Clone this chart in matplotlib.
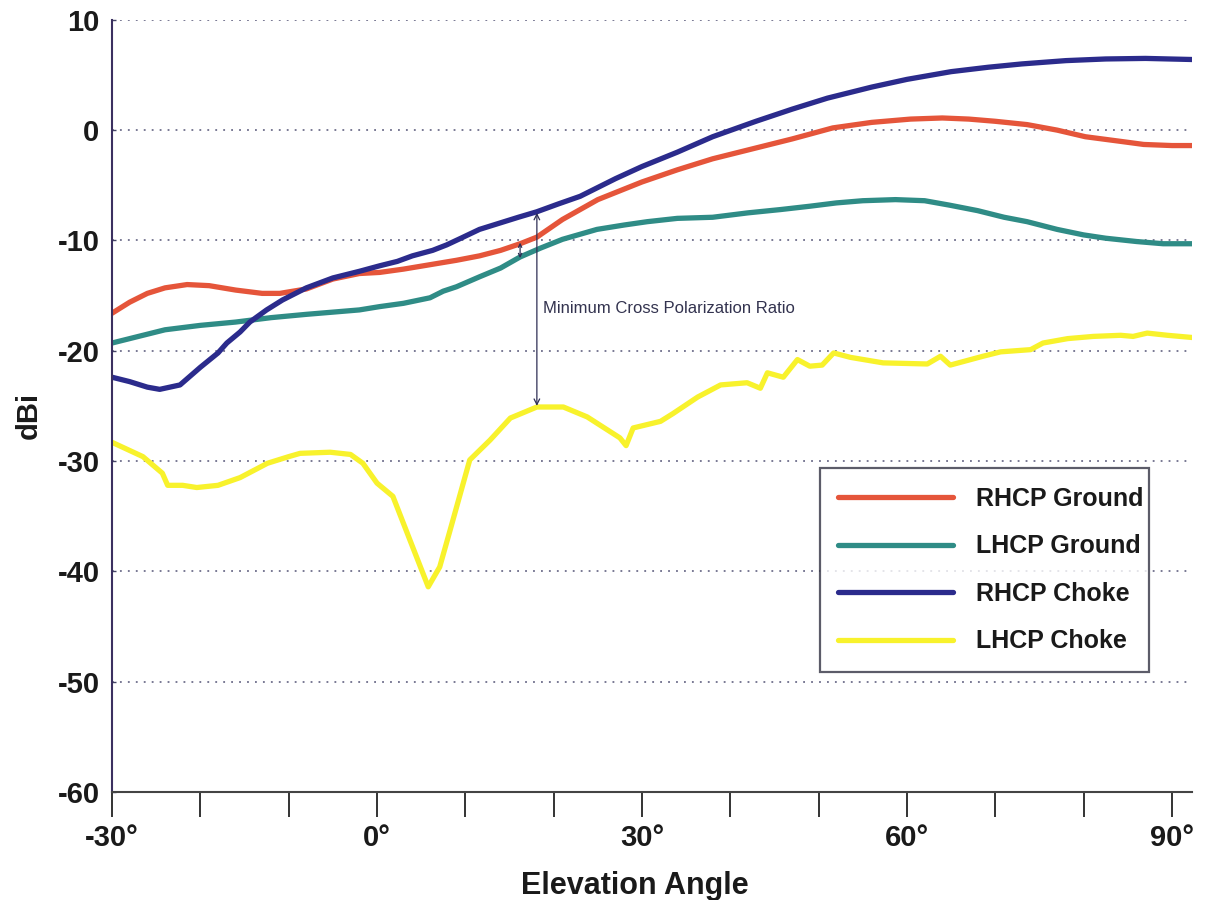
import matplotlib
matplotlib.use("Agg")
import matplotlib.pyplot as plt

plt.rcParams['font.family'] = ['Liberation Sans', 'DejaVu Sans']

# RHCP Ground (red)
rg_x = [-30, -28, -26, -24, -21.5, -19, -16, -13, -11, -8, -5, -2, 0.3, 3, 6, 9, 11.6, 14,
        16.2, 18.1, 21, 25, 30, 34, 38, 43, 47, 51.6, 56, 60.4, 64, 67, 70, 73.6, 77, 80.2,
        84, 86.8, 90, 92.3]
rg_y = [-16.6, -15.6, -14.8, -14.3, -14.0, -14.1, -14.5, -14.8, -14.8, -14.4, -13.5, -13.0,
        -12.9, -12.6, -12.2, -11.8, -11.4, -10.9, -10.3, -9.7, -8.1, -6.3, -4.7, -3.6, -2.6,
        -1.6, -0.8, 0.2, 0.7, 1.0, 1.1, 1.0, 0.8, 0.5, 0.0, -0.6, -1.0, -1.3, -1.4, -1.4]

# LHCP Ground (teal)
lg_x = [-30, -27, -24, -20, -16, -12, -8, -5, -2, 0.3, 3, 6, 7.5, 9, 11.6, 14, 16.2, 18.5,
        21, 24.9, 28, 30.6, 34, 38, 42, 45.7, 49, 52, 55, 58.7, 62, 64.8, 68, 71, 73.6, 77,
        80, 82.5, 86, 89, 92.3]
lg_y = [-19.3, -18.7, -18.1, -17.7, -17.4, -17.0, -16.7, -16.5, -16.3, -16.0, -15.7, -15.2,
        -14.6, -14.2, -13.3, -12.5, -11.5, -10.7, -9.9, -9.0, -8.6, -8.3, -8.0, -7.9, -7.5,
        -7.2, -6.9, -6.6, -6.4, -6.3, -6.4, -6.8, -7.3, -7.9, -8.3, -9.0, -9.5, -9.8, -10.1,
        -10.3, -10.3]

# RHCP Choke (blue)
rc_x = [-30, -28, -26, -24.6, -22.3, -20, -18, -17, -15.5, -14.4, -12.5, -10.7, -8, -5, -2,
        0.3, 2.3, 4, 6.3, 7.9, 9.5, 11.6, 14, 16, 18.1, 20.5, 23, 25, 27, 30, 34, 38,
        42.9, 47, 51, 56, 60, 65, 69.2, 73, 78, 82.5, 87, 92.3]
rc_y = [-22.4, -22.8, -23.3, -23.5, -23.1, -21.5, -20.2, -19.3, -18.3, -17.4, -16.3, -15.4,
        -14.3, -13.4, -12.8, -12.3, -11.9, -11.4, -10.9, -10.4, -9.8, -9.0, -8.4, -7.9, -7.4,
        -6.7, -6.0, -5.2, -4.4, -3.3, -2.0, -0.6, 0.8, 1.9, 2.9, 3.9, 4.6, 5.3, 5.7, 6.0, 6.3,
        6.45, 6.5, 6.4]

# LHCP Choke (yellow)
lc_x = [-30, -26.5, -24.3, -23.7, -22, -20.4, -18, -15.5, -12.4, -10, -8.7, -5.3, -3, -1.6,
        0, 1.8, 3.7, 5.8, 7.1, 8.3, 10.5, 12.8, 15.1, 18.1, 21.1, 23.8, 27.5, 28.2, 29, 32.1,
        33.5, 36.3, 38.9, 41.9, 43.4, 44.2, 46, 47.6, 49, 50.4, 51.7, 53.6, 57.3, 62.3, 63.8,
        64.9, 68.6, 70.6, 74, 75.4, 78.2, 81.1, 84.2, 85.6, 87.2, 89.5, 92.3]
lc_y = [-28.3, -29.6, -31.1, -32.2, -32.2, -32.4, -32.2, -31.5, -30.2, -29.6, -29.3, -29.2,
        -29.4, -30.2, -32.0, -33.2, -37.1, -41.4, -39.6, -36.2, -29.9, -28.1, -26.1, -25.1,
        -25.1, -26.0, -27.9, -28.6, -27.0, -26.4, -25.7, -24.2, -23.1, -22.9, -23.4, -22.0,
        -22.4, -20.8, -21.4, -21.3, -20.2, -20.6, -21.1, -21.2, -20.5, -21.3, -20.5, -20.1,
        -19.9, -19.3, -18.9, -18.7, -18.6, -18.7, -18.4, -18.6, -18.8]

x_ticks = list(range(-30, 91, 10))
x_labels = ['-30°', '', '', '0°', '', '', '30°', '', '', '60°', '', '', '90°']
y_ticks = list(range(-60, 11, 10))

fig = plt.figure(figsize=(12.07, 9), dpi=100)
ax = fig.add_axes([0.0928, 0.12, 0.895, 0.858])

ax.plot(rg_x, rg_y, color='#e5553a', lw=3.8, label='RHCP Ground', solid_capstyle='round')
ax.plot(lg_x, lg_y, color='#2f8c86', lw=3.8, label='LHCP Ground', solid_capstyle='round')
ax.plot(rc_x, rc_y, color='#2b2b8c', lw=3.8, label='RHCP Choke', solid_capstyle='round')
ax.plot(lc_x, lc_y, color='#f8f22c', lw=3.8, label='LHCP Choke', solid_capstyle='round')

# cross polarisation arrows
arrow_kw = dict(arrowstyle='<->', color='#2e2e55', lw=0.9, mutation_scale=10,
                shrinkA=0, shrinkB=0)
ax.annotate('', xy=(18.1, -7.5), xytext=(18.1, -25.0), arrowprops=arrow_kw)
ax.annotate('', xy=(16.2, -10.2), xytext=(16.2, -11.6),
            arrowprops=dict(arrow_kw, mutation_scale=6))
ax.text(18.8, -16.2, 'Minimum Cross Polarization Ratio', fontsize=12, color='#33334f',
        va='center', ha='left')

ax.set_xlim(-30, 92.3)
ax.set_ylim(-60, 10)
ax.set_xticks(x_ticks)
ax.set_xticklabels(x_labels)
ax.set_yticks(y_ticks)
ax.set_yticklabels([str(v) for v in y_ticks])

for lab in ax.get_xticklabels() + ax.get_yticklabels():
    lab.set_fontweight('bold')
    lab.set_fontsize(21)
    lab.set_color('#1a1a1a')

ax.tick_params(axis='x', direction='out', length=18, width=1.4, color='#333333', pad=5)
ax.tick_params(axis='y', direction='in', length=3, width=1, color='#444466', pad=9)

ax.yaxis.grid(True, linestyle=(0, (1.2, 4)), color='#555577', lw=1.1)
ax.set_axisbelow(True)

for s in ['top', 'right']:
    ax.spines[s].set_visible(False)
ax.spines['left'].set_color('#3b3060')
ax.spines['left'].set_linewidth(1.5)
ax.spines['bottom'].set_color('#444444')
ax.spines['bottom'].set_linewidth(1.5)

ax.set_ylabel('dBi', fontsize=21, fontweight='bold', color='#1a1a1a')
ax.yaxis.set_label_coords(-0.064, 0.488)
ax.set_xlabel('Elevation Angle', fontsize=22, fontweight='bold', color='#1a1a1a')
ax.xaxis.set_label_coords(0.484, -0.102)

leg = ax.legend(loc='upper left', bbox_to_anchor=(0.679, 0.252, 0.273, 0.228),
                bbox_transform=fig.transFigure, mode='expand',
                prop={'size': 18, 'weight': 'bold'}, frameon=True, fancybox=False,
                handlelength=4.6, handletextpad=0.9, labelspacing=0.94, borderpad=0.75,
                borderaxespad=0)
leg.get_frame().set_edgecolor('#333344')
leg.get_frame().set_linewidth(1.6)
for t in leg.get_texts():
    t.set_color('#1a1a1a')

fig.savefig('out.png', dpi=100)
